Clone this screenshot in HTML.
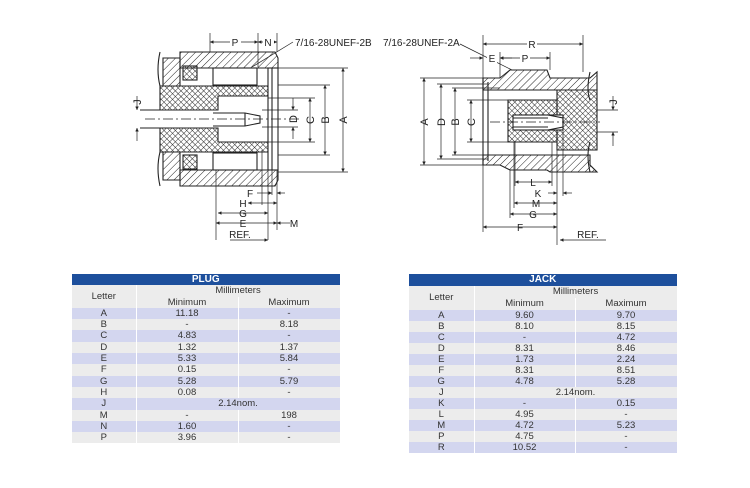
<!DOCTYPE html>
<html><head><meta charset="utf-8"><style>
body{margin:0;background:#fff;width:750px;height:488px;overflow:hidden;font-family:"Liberation Sans",sans-serif}
svg{position:absolute;left:0;top:0}
table{position:absolute;border-collapse:collapse;font-size:9.5px;color:#333;table-layout:fixed}
td{padding:0;text-align:center;height:11px;line-height:11px;border-right:1px solid #fff}
.h td{background:#1d4f9c;color:#fff;font-weight:bold;font-size:10px;height:12px;line-height:12px}
.o td{background:#d3d6ef}.e td{background:#ececec}
.s td{background:#ececec;height:12px;line-height:12px}
#p td{height:11.3px;line-height:11.3px}
</style></head><body>
<svg width="750" height="270" viewBox="0 0 750 270" font-family="Liberation Sans, sans-serif" font-size="10" fill="none" stroke="#222" stroke-width="1.1">
<defs>
<pattern id="ht" width="5" height="5" patternUnits="userSpaceOnUse" patternTransform="rotate(45)"><line x1="0" y1="0" x2="0" y2="5" stroke="#222" stroke-width="1"/></pattern>
<pattern id="xh" width="4" height="4" patternUnits="userSpaceOnUse" patternTransform="rotate(45)"><path d="M0 0V4M0 0H4" stroke="#222" stroke-width="0.9"/></pattern>
<marker id="a" viewBox="0 0 6 6" refX="6" refY="3" markerWidth="5" markerHeight="5" orient="auto-start-reverse"><path d="M0 0L6 3L0 6z" fill="#222" stroke="none"/></marker>
</defs>
<!-- PLUG -->
<path d="M180 52H275L278 58V68H180z" fill="url(#ht)"/>
<path d="M180 170H278V180L275 186H180z" fill="url(#ht)"/>
<path d="M163 58H180V86H163z" fill="url(#ht)"/>
<path d="M163 152H180V180H163z" fill="url(#ht)"/>
<rect x="213" y="68" width="44" height="17" fill="#fff"/>
<rect x="213" y="153" width="44" height="17" fill="#fff"/>
<rect x="183" y="66" width="14" height="14" fill="url(#xh)"/>
<rect x="183" y="155" width="14" height="14" fill="url(#xh)"/>
<path d="M160 86H268V96H218V110H160z" fill="url(#xh)"/>
<path d="M160 128H218V142H268V152H160z" fill="url(#xh)"/>
<rect x="268" y="68" width="10" height="102" fill="#fff"/>
<line x1="272" y1="68" x2="272" y2="170"/>
<path d="M213 113H245L260 116V123L245 126H213"/>
<line x1="245" y1="113" x2="245" y2="126"/>
<line x1="145" y1="119" x2="300" y2="119" stroke-dasharray="10 3 2 3" stroke-width="0.7"/>
<line x1="140" y1="110" x2="213" y2="110"/><line x1="140" y1="128" x2="213" y2="128"/>
<path d="M160 52Q156 70 160 86M160 152Q156 168 160 186"/>
<g stroke-width="0.7">
<line x1="210" y1="33" x2="210" y2="52"/><line x1="258" y1="33" x2="258" y2="67"/><line x1="277" y1="33" x2="277" y2="52"/>
<line x1="210" y1="42" x2="258" y2="42" marker-start="url(#a)" marker-end="url(#a)"/>
<line x1="258" y1="42" x2="277" y2="42" marker-start="url(#a)" marker-end="url(#a)"/>
<line x1="293" y1="42" x2="252" y2="67"/>
<line x1="278" y1="68" x2="348" y2="68"/><line x1="278" y1="172" x2="348" y2="172"/>
<line x1="278" y1="85" x2="330" y2="85"/><line x1="278" y1="155" x2="330" y2="155"/>
<line x1="268" y1="98" x2="315" y2="98"/><line x1="268" y1="142" x2="315" y2="142"/>
<line x1="262" y1="110" x2="298" y2="110"/><line x1="262" y1="127" x2="298" y2="127"/>
<line x1="343" y1="68" x2="343" y2="172" marker-start="url(#a)" marker-end="url(#a)"/>
<line x1="325" y1="85" x2="325" y2="155" marker-start="url(#a)" marker-end="url(#a)"/>
<line x1="310" y1="98" x2="310" y2="142" marker-start="url(#a)" marker-end="url(#a)"/>
<line x1="293" y1="98" x2="293" y2="110" marker-end="url(#a)"/><line x1="293" y1="139" x2="293" y2="127" marker-end="url(#a)"/>
<line x1="137" y1="96" x2="137" y2="110" marker-end="url(#a)"/><line x1="137" y1="141" x2="137" y2="128" marker-end="url(#a)"/>
<line x1="216" y1="170" x2="216" y2="240"/><line x1="268" y1="150" x2="268" y2="240"/><line x1="262" y1="150" x2="262" y2="205"/><line x1="277" y1="170" x2="277" y2="230"/><line x1="272" y1="170" x2="272" y2="195"/>
<line x1="257" y1="193" x2="272" y2="193" marker-end="url(#a)"/><line x1="285" y1="193" x2="277" y2="193" marker-end="url(#a)"/>
<line x1="248" y1="203" x2="262" y2="203" marker-start="url(#a)"/><line x1="262" y1="203" x2="277" y2="203" marker-end="url(#a)"/>
<line x1="218" y1="213" x2="268" y2="213" marker-start="url(#a)" marker-end="url(#a)"/>
<line x1="216" y1="223" x2="277" y2="223" marker-start="url(#a)" marker-end="url(#a)"/>
<line x1="290" y1="223" x2="277" y2="223" marker-end="url(#a)"/>
<line x1="230" y1="240" x2="268" y2="240" marker-end="url(#a)"/>
</g>
<!-- JACK -->
<path d="M483 78H500L510 70H547L550 78H590L597 72V90H483z" fill="url(#ht)"/>
<path d="M483 155H590V165L597 172H550L547 170H510L500 165H483z" fill="url(#ht)"/>
<path d="M557 90H597V150H557z" fill="url(#xh)"/>
<path d="M508 100H557V142H508z" fill="url(#xh)"/>
<rect x="513" y="115" width="50" height="15" fill="#fff"/>
<path d="M513 118H548M513 127H548M548 115L563 118V127L548 130"/>
<path d="M483 78V165M488 82V161"/>
<line x1="490" y1="122" x2="600" y2="122" stroke-dasharray="10 3 2 3" stroke-width="0.7"/>
<path d="M590 72Q586 90 590 100M590 142Q586 155 590 172"/>
<g stroke-width="0.7">
<line x1="483" y1="35" x2="483" y2="78"/><line x1="583" y1="35" x2="583" y2="72"/><line x1="500" y1="52" x2="500" y2="78"/><line x1="550" y1="52" x2="550" y2="70"/>
<line x1="483" y1="44" x2="583" y2="44" marker-start="url(#a)" marker-end="url(#a)"/>
<line x1="470" y1="58" x2="483" y2="58" marker-end="url(#a)"/><line x1="512" y1="58" x2="500" y2="58" marker-end="url(#a)"/>
<line x1="500" y1="58" x2="550" y2="58" marker-start="url(#a)" marker-end="url(#a)"/>
<line x1="460" y1="44" x2="512" y2="70"/>
<line x1="420" y1="78" x2="483" y2="78"/><line x1="420" y1="165" x2="483" y2="165"/>
<line x1="437" y1="84" x2="488" y2="84"/><line x1="437" y1="159" x2="488" y2="159"/>
<line x1="452" y1="88" x2="500" y2="88"/><line x1="452" y1="155" x2="500" y2="155"/>
<line x1="467" y1="100" x2="508" y2="100"/><line x1="467" y1="142" x2="508" y2="142"/>
<line x1="424" y1="78" x2="424" y2="165" marker-start="url(#a)" marker-end="url(#a)"/>
<line x1="441" y1="84" x2="441" y2="159" marker-start="url(#a)" marker-end="url(#a)"/>
<line x1="455" y1="88" x2="455" y2="155" marker-start="url(#a)" marker-end="url(#a)"/>
<line x1="471" y1="100" x2="471" y2="142" marker-start="url(#a)" marker-end="url(#a)"/>
<line x1="597" y1="110" x2="618" y2="110"/><line x1="597" y1="132" x2="618" y2="132"/>
<line x1="613" y1="96" x2="613" y2="110" marker-end="url(#a)"/><line x1="613" y1="146" x2="613" y2="132" marker-end="url(#a)"/>
<line x1="483" y1="165" x2="483" y2="232"/><line x1="510" y1="170" x2="510" y2="218"/><line x1="514" y1="142" x2="514" y2="208"/><line x1="515" y1="142" x2="515" y2="186"/><line x1="552" y1="142" x2="552" y2="186"/><line x1="557" y1="150" x2="557" y2="245"/><line x1="563" y1="130" x2="563" y2="196"/>
<line x1="515" y1="182" x2="552" y2="182" marker-start="url(#a)" marker-end="url(#a)"/>
<line x1="548" y1="193" x2="557" y2="193" marker-end="url(#a)"/><line x1="572" y1="193" x2="563" y2="193" marker-end="url(#a)"/>
<line x1="514" y1="203" x2="557" y2="203" marker-start="url(#a)" marker-end="url(#a)"/>
<line x1="510" y1="214" x2="557" y2="214" marker-start="url(#a)" marker-end="url(#a)"/>
<line x1="483" y1="227" x2="557" y2="227" marker-start="url(#a)" marker-end="url(#a)"/>
<line x1="606" y1="240" x2="560" y2="240" marker-end="url(#a)"/>
</g>
<g fill="#222" stroke="none" text-anchor="middle">
<rect x="230" y="37" width="11" height="10" fill="#fff"/><text x="235" y="46">P</text>
<rect x="263" y="37" width="11" height="10" fill="#fff"/><text x="268" y="46">N</text>
<text x="295" y="46" text-anchor="start">7/16-28UNEF-2B</text>
<text x="383" y="46" text-anchor="start">7/16-28UNEF-2A</text>
<g font-size="11">
<text transform="translate(347 120) rotate(-90)">A</text>
<text transform="translate(329 120) rotate(-90)">B</text>
<text transform="translate(314 120) rotate(-90)">C</text>
<text transform="translate(297 119) rotate(-90)">D</text>
<text transform="translate(141 102) rotate(-90)">J</text>
<text transform="translate(428 122) rotate(-90)">A</text>
<text transform="translate(445 122) rotate(-90)">D</text>
<text transform="translate(459 122) rotate(-90)">B</text>
<text transform="translate(475 122) rotate(-90)">C</text>
<text transform="translate(617 102) rotate(-90)">J</text>
</g>
<text x="250" y="197">F</text><text x="243" y="207">H</text><text x="243" y="217">G</text><text x="243" y="227">E</text><text x="294" y="227">M</text>
<text x="240" y="238">REF.</text>
<rect x="527" y="39" width="10" height="10" fill="#fff"/><text x="532" y="48">R</text>
<rect x="487" y="53" width="10" height="10" fill="#fff"/><text x="492" y="62">E</text>
<rect x="520" y="53" width="10" height="10" fill="#fff"/><text x="525" y="62">P</text>
<text x="533" y="186">L</text><text x="538" y="197">K</text><text x="536" y="207">M</text><text x="533" y="218">G</text><text x="520" y="231">F</text>
<text x="588" y="238">REF.</text>
</g>
</svg>
<table id="p" style="left:72px;top:274px;width:268px">
<colgroup><col style="width:64px"><col style="width:102px"><col style="width:102px"></colgroup>
<tr class="h"><td colspan="3">PLUG</td></tr>
<tr class="s"><td rowspan="2">Letter</td><td colspan="2">Millimeters</td></tr>
<tr class="s"><td>Minimum</td><td>Maximum</td></tr>
<tr class="o"><td>A</td><td>11.18</td><td>-</td></tr>
<tr class="e"><td>B</td><td>-</td><td>8.18</td></tr>
<tr class="o"><td>C</td><td>4.83</td><td>-</td></tr>
<tr class="e"><td>D</td><td>1.32</td><td>1.37</td></tr>
<tr class="o"><td>E</td><td>5.33</td><td>5.84</td></tr>
<tr class="e"><td>F</td><td>0.15</td><td>-</td></tr>
<tr class="o"><td>G</td><td>5.28</td><td>5.79</td></tr>
<tr class="e"><td>H</td><td>0.08</td><td>-</td></tr>
<tr class="o"><td>J</td><td colspan="2">2.14nom.</td></tr>
<tr class="e"><td>M</td><td>-</td><td>198</td></tr>
<tr class="o"><td>N</td><td>1.60</td><td>-</td></tr>
<tr class="e"><td>P</td><td>3.96</td><td>-</td></tr>
</table>
<table style="left:409px;top:274px;width:268px">
<colgroup><col style="width:65px"><col style="width:101px"><col style="width:102px"></colgroup>
<tr class="h"><td colspan="3">JACK</td></tr>
<tr class="s"><td rowspan="2">Letter</td><td colspan="2">Millimeters</td></tr>
<tr class="s"><td>Minimum</td><td>Maximum</td></tr>
<tr class="o"><td>A</td><td>9.60</td><td>9.70</td></tr>
<tr class="e"><td>B</td><td>8.10</td><td>8.15</td></tr>
<tr class="o"><td>C</td><td>-</td><td>4.72</td></tr>
<tr class="e"><td>D</td><td>8.31</td><td>8.46</td></tr>
<tr class="o"><td>E</td><td>1.73</td><td>2.24</td></tr>
<tr class="e"><td>F</td><td>8.31</td><td>8.51</td></tr>
<tr class="o"><td>G</td><td>4.78</td><td>5.28</td></tr>
<tr class="e"><td>J</td><td colspan="2">2.14nom.</td></tr>
<tr class="o"><td>K</td><td>-</td><td>0.15</td></tr>
<tr class="e"><td>L</td><td>4.95</td><td>-</td></tr>
<tr class="o"><td>M</td><td>4.72</td><td>5.23</td></tr>
<tr class="e"><td>P</td><td>4.75</td><td>-</td></tr>
<tr class="o"><td>R</td><td>10.52</td><td>-</td></tr>
</table>
</body></html>
